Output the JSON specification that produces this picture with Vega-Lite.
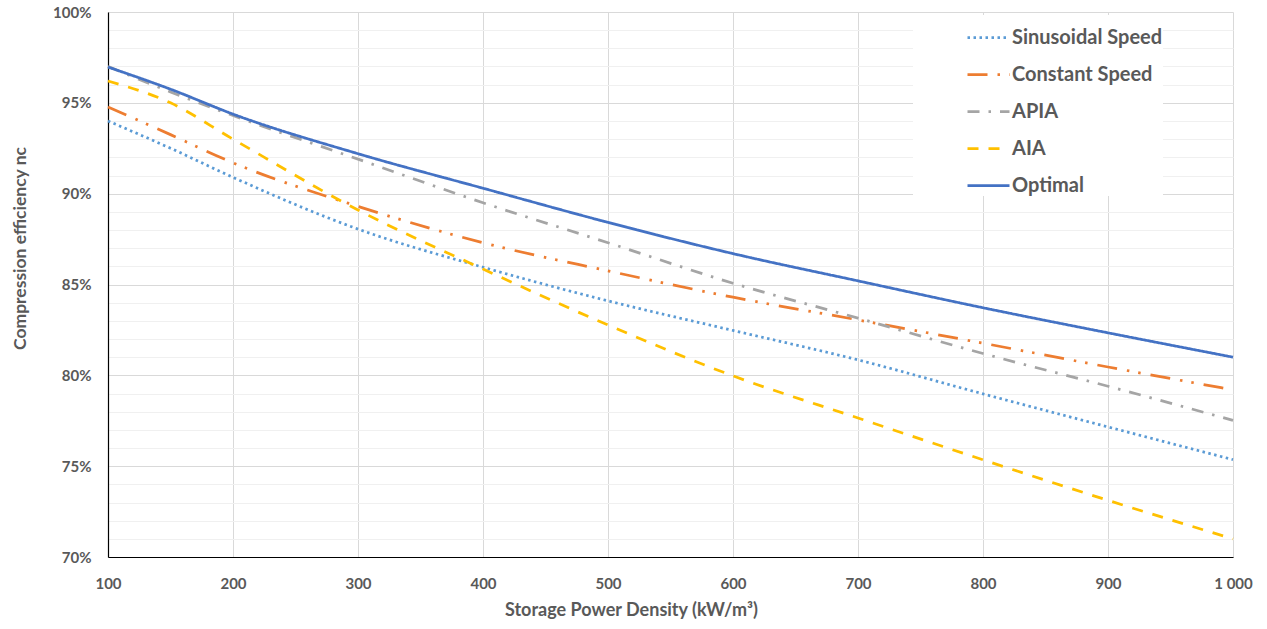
{
  "$schema": "https://vega.github.io/schema/vega-lite/v6.json",
  "autosize": {"type": "none"},
  "width": 1125,
  "height": 545,
  "padding": {"left": 108, "top": 12, "right": 34, "bottom": 72},
  "background": "white",
  "config": {"view": {"stroke": null}, "font": "Lato"},
  "data": {"values": [
    {"x": 100, "series": "Sinusoidal Speed", "v": 94.0},
    {"x": 150, "series": "Sinusoidal Speed", "v": 92.5},
    {"x": 200, "series": "Sinusoidal Speed", "v": 90.9},
    {"x": 300, "series": "Sinusoidal Speed", "v": 88.05},
    {"x": 400, "series": "Sinusoidal Speed", "v": 85.95},
    {"x": 500, "series": "Sinusoidal Speed", "v": 84.1},
    {"x": 600, "series": "Sinusoidal Speed", "v": 82.47},
    {"x": 700, "series": "Sinusoidal Speed", "v": 80.85},
    {"x": 800, "series": "Sinusoidal Speed", "v": 78.98},
    {"x": 900, "series": "Sinusoidal Speed", "v": 77.16},
    {"x": 1000, "series": "Sinusoidal Speed", "v": 75.36},
    {"x": 100, "series": "Constant Speed", "v": 94.77},
    {"x": 150, "series": "Constant Speed", "v": 93.25},
    {"x": 200, "series": "Constant Speed", "v": 91.7},
    {"x": 300, "series": "Constant Speed", "v": 89.3},
    {"x": 400, "series": "Constant Speed", "v": 87.3},
    {"x": 500, "series": "Constant Speed", "v": 85.75},
    {"x": 600, "series": "Constant Speed", "v": 84.3},
    {"x": 700, "series": "Constant Speed", "v": 83.05},
    {"x": 800, "series": "Constant Speed", "v": 81.77},
    {"x": 900, "series": "Constant Speed", "v": 80.46},
    {"x": 1000, "series": "Constant Speed", "v": 79.2},
    {"x": 100, "series": "APIA", "v": 97.0},
    {"x": 150, "series": "APIA", "v": 95.6},
    {"x": 200, "series": "APIA", "v": 94.3},
    {"x": 300, "series": "APIA", "v": 91.9},
    {"x": 400, "series": "APIA", "v": 89.5},
    {"x": 500, "series": "APIA", "v": 87.3},
    {"x": 600, "series": "APIA", "v": 85.07},
    {"x": 700, "series": "APIA", "v": 83.15},
    {"x": 800, "series": "APIA", "v": 81.2},
    {"x": 900, "series": "APIA", "v": 79.4},
    {"x": 1000, "series": "APIA", "v": 77.52},
    {"x": 100, "series": "AIA", "v": 96.2},
    {"x": 150, "series": "AIA", "v": 95.0},
    {"x": 200, "series": "AIA", "v": 93.0},
    {"x": 300, "series": "AIA", "v": 89.1},
    {"x": 400, "series": "AIA", "v": 85.85},
    {"x": 500, "series": "AIA", "v": 82.77},
    {"x": 600, "series": "AIA", "v": 79.97},
    {"x": 700, "series": "AIA", "v": 77.65},
    {"x": 800, "series": "AIA", "v": 75.35},
    {"x": 900, "series": "AIA", "v": 73.12},
    {"x": 1000, "series": "AIA", "v": 71.0},
    {"x": 100, "series": "Optimal", "v": 96.97},
    {"x": 150, "series": "Optimal", "v": 95.75},
    {"x": 200, "series": "Optimal", "v": 94.38},
    {"x": 300, "series": "Optimal", "v": 92.2},
    {"x": 400, "series": "Optimal", "v": 90.3},
    {"x": 500, "series": "Optimal", "v": 88.42},
    {"x": 600, "series": "Optimal", "v": 86.7},
    {"x": 700, "series": "Optimal", "v": 85.2},
    {"x": 800, "series": "Optimal", "v": 83.72},
    {"x": 900, "series": "Optimal", "v": 82.34},
    {"x": 1000, "series": "Optimal", "v": 81.0}
  ]},
  "encoding": {
    "x": {"field": "x", "type": "quantitative", "scale": {"domain": [100, 1000], "nice": false},
      "axis": {"values": [100,200,300,400,500,600,700,800,900,1000], "grid": true, "gridColor": "#D9D9D9",
        "domainColor": "#000000", "domainWidth": 1.2, "ticks": false, "labelPadding": 19,
        "labelFont": "Lato", "labelFontSize": 15, "labelFontWeight": "bold", "labelColor": "#595959",
        "labelExpr": "datum.value == 1000 ? '1 000' : datum.label", "labelFlush": false,
        "title": "Storage Power Density (kW/m³)", "titleFont": "Lato", "titleFontSize": 18, "titleFontWeight": "bold",
        "titleColor": "#595959", "titleX": 523, "titleY": 44, "titleAlign": "center", "titleBaseline": "top"}}
  },
  "layer": [
    {
      "mark": {"type": "line", "strokeOpacity": 0, "strokeWidth": 1},
      "encoding": {
        "y": {"field": "v", "type": "quantitative", "scale": {"domain": [70, 100], "nice": false},
          "axis": {"orient": "right", "values": [71,72,73,74,76,77,78,79,81,82,83,84,86,87,88,89,91,92,93,94,96,97,98,99],
            "grid": true, "gridColor": "#F0F0F0", "gridWidth": 1, "labels": false, "ticks": false, "domain": false, "title": null}},
        "detail": {"field": "series"}
      }
    },
    {
      "mark": {"type": "line", "interpolate": "monotone", "strokeWidth": 2.75},
      "encoding": {
        "y": {"field": "v", "type": "quantitative", "scale": {"domain": [70, 100], "nice": false},
          "axis": {"values": [70,75,80,85,90,95,100], "grid": true, "gridColor": "#D9D9D9",
            "domainColor": "#000000", "domainWidth": 1.2, "ticks": false, "labelPadding": 17,
            "labelFont": "Lato", "labelFontSize": 15, "labelFontWeight": "bold", "labelColor": "#595959",
            "labelExpr": "datum.value + '%'", "labelFlush": false,
            "title": "Compression efficiency nc", "titleFont": "Lato", "titleFontSize": 17.5, "titleFontWeight": "bold",
            "titleColor": "#595959", "titleX": -88, "titleY": 236, "titleAngle": -90, "titleAlign": "center", "titleBaseline": "middle"}},
        "color": {"field": "series", "type": "nominal",
          "scale": {"domain": ["Sinusoidal Speed", "Constant Speed", "APIA", "AIA", "Optimal"],
            "range": ["#5B9BD5", "#ED7D31", "#A5A5A5", "#FFC000", "#4472C4"]},
          "legend": {"orient": "none", "legendX": 805, "legendY": 3, "padding": 0, "fillColor": "white",
            "title": null, "symbolType": "stroke", "symbolSize": 1764, "symbolStrokeWidth": 2.75, "symbolOffset": 53,
            "labelFont": "Lato", "labelFontSize": 20, "labelFontWeight": "bold", "labelColor": "#595959", "labelOffset": 1,
            "rowPadding": 4, "labelLimit": 500}},
        "strokeDash": {"field": "series", "type": "nominal",
          "scale": {"domain": ["Sinusoidal Speed", "Constant Speed", "APIA", "AIA", "Optimal"],
            "range": [[2.5, 3.5], [20, 10, 2.5, 9, 2.5, 10], [12, 9, 2.5, 9], [11, 10], [1, 0]]},
          "legend": {"orient": "none", "legendX": 805, "legendY": 3, "padding": 0, "fillColor": "white",
            "title": null, "symbolType": "stroke", "symbolSize": 1764, "symbolStrokeWidth": 2.75, "symbolOffset": 53,
            "labelFont": "Lato", "labelFontSize": 20, "labelFontWeight": "bold", "labelColor": "#595959", "labelOffset": 1,
            "rowPadding": 4, "labelLimit": 500}}
      }
    }
  ],
  "resolve": {"axis": {"y": "independent"}}
}
